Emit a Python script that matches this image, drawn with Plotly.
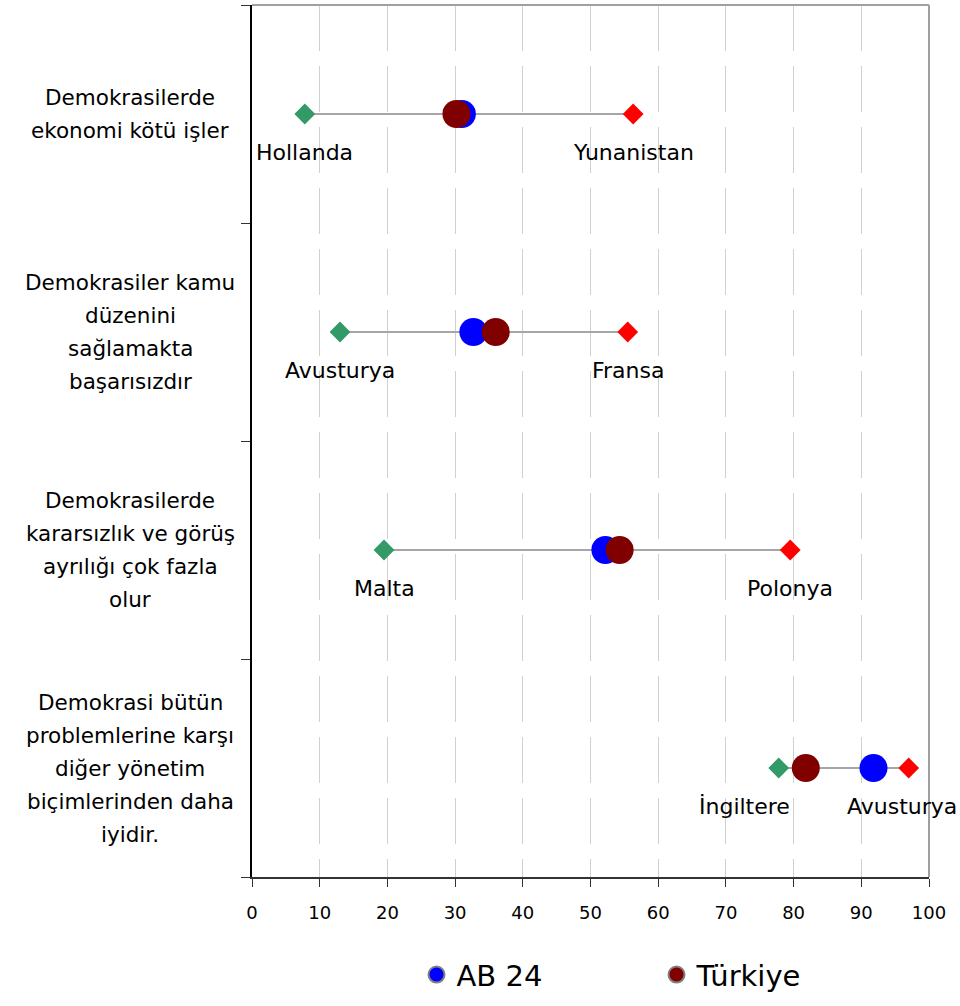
import plotly.graph_objects as go

# statements (top to bottom)
statements = [
    "Demokrasilerde<br>ekonomi kötü işler",
    "Demokrasiler kamu<br>düzenini<br>sağlamakta<br>başarısızdır",
    "Demokrasilerde<br>kararsızlık ve görüş<br>ayrılığı çok fazla<br>olur",
    "Demokrasi bütün<br>problemlerine karşı<br>diğer yönetim<br>biçimlerinden daha<br>iyidir.",
]
ab24 = [31.0, 32.7, 52.2, 91.8]
turkiye = [30.2, 36.0, 54.3, 81.8]
min_vals = [7.8, 13.0, 19.5, 77.8]
max_vals = [56.3, 55.5, 79.5, 97.0]
min_countries = ["Hollanda", "Avusturya", "Malta", "İngiltere"]
max_countries = ["Yunanistan", "Fransa", "Polonya", "Avusturya"]

FONT = "DejaVu Sans"
ypos = [i + 0.5 for i in range(len(statements))]

fig = go.Figure()

# grey range lines min -> max
lx, ly = [], []
for y, a, b in zip(ypos, min_vals, max_vals):
    lx += [a, b, None]
    ly += [y, y, None]
fig.add_trace(go.Scatter(x=lx, y=ly, mode="lines", line=dict(color="#a6a6a6", width=2),
                         showlegend=False, hoverinfo="skip"))

fig.add_trace(go.Scatter(x=min_vals, y=ypos, mode="markers", showlegend=False,
                         marker=dict(symbol="diamond", size=16, color="#339966")))
fig.add_trace(go.Scatter(x=max_vals, y=ypos, mode="markers", showlegend=False,
                         marker=dict(symbol="diamond", size=16, color="#ff0000")))
fig.add_trace(go.Scatter(x=ab24, y=ypos, mode="markers", showlegend=False, name="AB 24",
                         marker=dict(size=28, color="#0000ff")))
fig.add_trace(go.Scatter(x=turkiye, y=ypos, mode="markers", showlegend=False, name="Türkiye",
                         marker=dict(size=28, color="#800000")))

# legend-only entries (grey outline like the original)
for name, col in [("AB 24", "#0000ff"), ("Türkiye", "#800000")]:
    fig.add_trace(go.Scatter(x=[None], y=[None], mode="markers", name=name,
                             marker=dict(size=22, color=col, line=dict(color="#808080", width=2))))

annotations = []
# statement labels on the left, one annotation per line
LINE_H = 33
for y, s in zip(ypos, statements):
    lines = s.split("<br>")
    n = len(lines)
    for i, ln in enumerate(lines):
        annotations.append(dict(x=-0.18, xref="paper", y=y, yref="y", text=ln, showarrow=False,
                                xanchor="center", yanchor="middle",
                                yshift=((n - 1) / 2 - i) * LINE_H,
                                font=dict(family=FONT, size=21.5, color="black")))
# country labels under min / max markers
min_shift = [0, 0, 0, -34]
max_shift = [0, 0, 0, -7]
for y, v, c, sh in zip(ypos, min_vals, min_countries, min_shift):
    annotations.append(dict(x=v, y=y, text=c, showarrow=False, xanchor="center", yanchor="middle",
                            yshift=-38, xshift=sh, font=dict(family=FONT, size=22, color="black")))
for y, v, c, sh in zip(ypos, max_vals, max_countries, max_shift):
    annotations.append(dict(x=v, y=y, text=c, showarrow=False, xanchor="center", yanchor="middle",
                            yshift=-38, xshift=sh, font=dict(family=FONT, size=22, color="black")))

fig.update_layout(
    width=960, height=1006,
    margin=dict(l=252, r=31, t=5, b=129),
    plot_bgcolor="white", paper_bgcolor="white",
    font=dict(family=FONT, color="black"),
    xaxis=dict(range=[0, 100], dtick=10, showgrid=True, gridcolor="#d0d0d0", griddash="46px,15px",
               gridwidth=1, zeroline=False, showline=True, linecolor="#333333", linewidth=2,
               ticks="outside", ticklen=8, tickcolor="#333333", tickfont=dict(size=18),
               ticklabelstandoff=10, fixedrange=True),
    yaxis=dict(range=[4, 0], tickvals=[0, 1, 2, 3, 4], ticktext=["", "", "", "", ""],
               showgrid=False, zeroline=False, showline=True, linecolor="black", linewidth=2,
               ticks="outside", ticklen=9, tickcolor="#333333"),
    showlegend=True,
    legend=dict(orientation="h", x=0.243, xanchor="left", y=-0.112, yanchor="middle",
                font=dict(size=29, family=FONT), itemsizing="trace", entrywidth=195),
    annotations=annotations,
    shapes=[
        dict(type="line", xref="paper", yref="paper", x0=0, x1=1, y0=1, y1=1,
             line=dict(color="#a0a0a0", width=2)),
        dict(type="line", xref="paper", yref="paper", x0=1, x1=1, y0=0, y1=1,
             line=dict(color="#a0a0a0", width=2)),
    ],
)

fig.write_html("out.html", config={"displayModeBar": False},
               post_script="document.body.style.margin='0';")
